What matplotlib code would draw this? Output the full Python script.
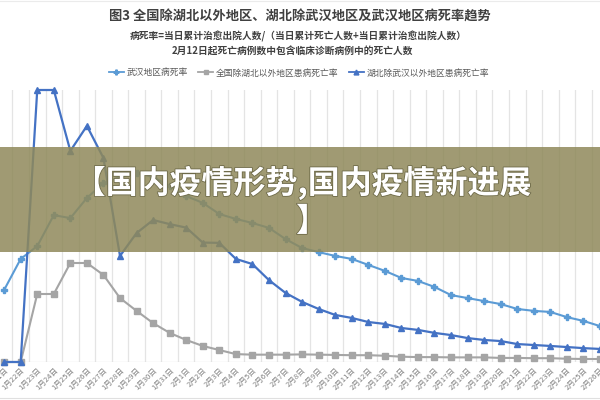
import matplotlib
matplotlib.use('Agg')
import matplotlib.pyplot as plt
from matplotlib.lines import Line2D
from matplotlib.patches import Rectangle
import matplotlib.patheffects as pe

plt.rcParams['font.family'] = ['Noto Sans CJK SC', 'DejaVu Sans']

# ---------------- data ----------------
dates = [f'1月{d}日' for d in range(21, 32)] + [f'2月{d}日' for d in range(1, 27)]

wuhan = [26.5, 37.9, 42.6, 54.0, 52.9, 60.3, 65.8, 68.0, 69.5, 68.0,
         64.7, 61.0, 58.5, 54.4, 52.6, 51.1, 49.3, 45.2, 41.9, 40.4,
         39.0, 37.9, 35.7, 33.5, 30.9, 29.8, 27.6, 24.6, 23.5, 22.4,
         21.3, 19.5, 18.8, 18.4, 16.5, 15.1, 13.2]

national_ex_hubei = [0.0, 0.0, 25.0, 25.0, 36.4, 36.4, 32.0, 23.5, 18.8, 14.3,
                     10.7, 8.1, 5.9, 4.4, 2.9, 2.7, 2.7, 2.7, 2.8, 2.7,
                     2.6, 2.5, 2.5, 2.3, 1.95, 1.8, 1.8, 1.7, 1.7, 1.7,
                     1.5, 1.5, 1.4, 1.4, 1.2, 1.1, 1.1]

hubei_ex_wuhan = [0.0, 0.0, 100.0, 100.0, 77.6, 86.8, 75.0, 39.0, 47.4, 52.2,
                  50.7, 49.4, 43.9, 43.8, 37.9, 36.0, 30.1, 25.4, 22.1, 19.5,
                  17.3, 16.2, 14.7, 14.0, 12.5, 11.8, 10.7, 9.9, 8.8, 8.1,
                  7.7, 6.6, 6.25, 5.9, 5.5, 5.1, 4.8]

series_names = ['武汉地区病死率', '全国除湖北以外地区患病死亡率', '湖北除武汉以外地区患病死亡率']

title = '图3 全国除湖北以外地区、湖北除武汉地区及武汉地区病死率趋势'
sub1 = '病死率=当日累计治愈出院人数/（当日累计死亡人数+当日累计治愈出院人数）'
sub2 = '2月12日起死亡病例数中包含临床诊断病例中的死亡人数'
banner_line1 = '【国内疫情形势,国内疫情新进展'
banner_line2 = '】'

# ---------------- figure ----------------
W, H = 600, 400
fig = plt.figure(figsize=(6, 4), dpi=100)
fig.patch.set_facecolor('white')

ax = fig.add_axes([0, 38 / H, 1, 272 / H])
x = list(range(len(dates)))

ax.set_xlim(-0.25, 35.53)
ax.set_ylim(0, 100)

# vertical gridlines between categories
for i in range(len(dates)):
    ax.axvline(i + 0.5, color='#E4E4E4', lw=0.9, zorder=0)
ax.axhline(0, color='#D9D9D9', lw=0.9, zorder=0.5)

c_light = '#5B9BD5'
c_gray = '#A5A5A5'
c_dark = '#4472C4'

ax.plot(x, national_ex_hubei, color=c_gray, lw=1.5, marker='s', ms=4,
        label=series_names[1], clip_on=False, zorder=2)
ax.plot(x, wuhan, color=c_light, lw=1.5, marker='P', ms=4.5,
        label=series_names[0], clip_on=False, zorder=3)
ax.plot(x, hubei_ex_wuhan, color=c_dark, lw=1.6, marker='^', ms=4.5,
        label=series_names[2], clip_on=False, zorder=4)

for s in ax.spines.values():
    s.set_visible(False)
ax.set_yticks([])
ax.set_xticks(x)
ax.set_xticklabels(dates, rotation=45, ha='right', rotation_mode='anchor',
                   fontsize=5.5, color='#7F7F7F')
ax.tick_params(axis='x', length=0, pad=3)

# ---------------- titles ----------------
fig.text(0.5, 1 - 17 / H, title, ha='center', va='center', fontsize=9.5,
         fontweight='bold', color='#404040')
fig.text(0.497, 1 - 36 / H, sub1, ha='center', va='center', fontsize=7,
         fontweight='bold', color='#404040')
fig.text(0.487, 1 - 52 / H, sub2, ha='center', va='center', fontsize=7,
         fontweight='bold', color='#404040')

# ---------------- legend ----------------
handles = [
    Line2D([], [], color=c_light, lw=1.3, marker='P', ms=3.5),
    Line2D([], [], color=c_gray, lw=1.3, marker='s', ms=3),
    Line2D([], [], color=c_dark, lw=1.3, marker='^', ms=3.5),
]
leg = fig.legend(handles, series_names, loc='center', bbox_to_anchor=(0.498, 1 - 73 / H),
                 ncol=3, frameon=False, fontsize=6.3, handlelength=1.7,
                 handletextpad=0.3, columnspacing=1.2, borderpad=0)
for t in leg.get_texts():
    t.set_color('#595959')

# faint frame lines
fig.add_artist(Line2D([0, 1], [1 - 398 / H, 1 - 398 / H], transform=fig.transFigure,
                      color='#E0E0E0', lw=0.8))
fig.add_artist(Line2D([0, 1], [1 - 0.8 / H, 1 - 0.8 / H], transform=fig.transFigure,
                      color='#EBEBEB', lw=0.8))

# ---------------- overlay banner ----------------
fig.add_artist(Rectangle((0, 1 - 252 / H), 1, 105 / H, transform=fig.transFigure,
                         facecolor=(143 / 255, 137 / 255, 90 / 255), alpha=0.85,
                         edgecolor='none', zorder=10))
eff = [pe.withStroke(linewidth=1.2, foreground='#6E6A48')]
fig.text(0.505, 1 - 183 / H, banner_line1, ha='center', va='center', fontsize=23,
         fontweight='bold', color='white', zorder=11, path_effects=eff)
fig.text(0.52, 1 - 222 / H, banner_line2, ha='center', va='center', fontsize=23,
         fontweight='bold', color='white', zorder=11, path_effects=eff)

fig.savefig('out.png', dpi=100, facecolor='white')
